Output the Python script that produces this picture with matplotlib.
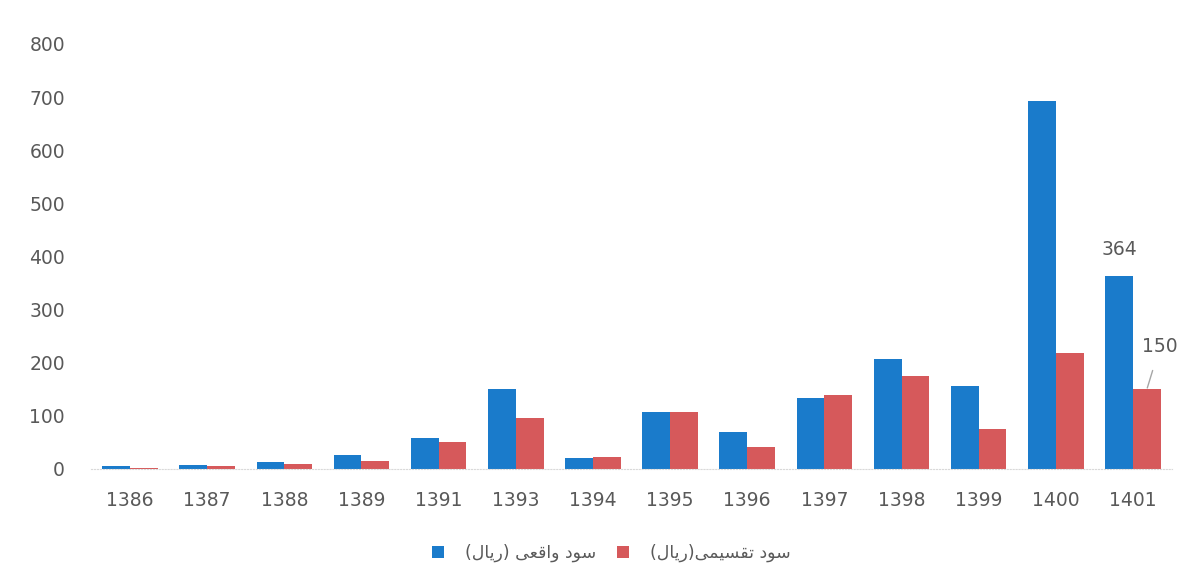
import matplotlib
matplotlib.use("Agg")
import matplotlib.pyplot as plt
import numpy as np

# ------ data ------
years = ["1386", "1387", "1388", "1389", "1391", "1393", "1394",
         "1395", "1396", "1397", "1398", "1399", "1400", "1401"]
real_profit = [5, 7, 14, 26, 58, 151, 21, 107, 70, 134, 207, 156, 693, 364]
paid_profit = [1, 5, 9, 15, 51, 96, 23, 107, 41, 139, 175, 75, 218, 150]
y_ticks = [0, 100, 200, 300, 400, 500, 600, 700, 800]

# persian labels written in visual order with arabic presentation forms
# logical: "سود واقعی (ریال)" and "سود تقسیمی(ریال)"
rial = "(" + "\uFEDD\uFE8E\uFBFE\uFEAD" + ")"
sood = "\uFEA9\uFEEE\uFEB3"
vaghei = "\uFBFD\uFECC\uFED7\uFE8D\uFEED"
taghsimi = "\uFBFD\uFEE4\uFBFF\uFEB4\uFED8\uFE97"
label_real = rial + " " + vaghei + " " + sood
label_paid = rial + taghsimi + " " + sood

blue = "#1a7bcb"
red = "#d6595b"
grey = "#595959"

# ------ plot ------
fig = plt.figure(figsize=(11.87, 5.85), dpi=100)
ax = fig.add_axes([0.077, 0.1983, 0.91, 0.7265])

x = np.arange(len(years))
w = 0.36
b1 = ax.bar(x - w / 2, real_profit, w, color=blue, label=label_real)
b2 = ax.bar(x + w / 2, paid_profit, w, color=red, label=label_paid)

ax.set_xlim(-0.5, len(years) - 0.5)
ax.set_ylim(0, 800)
ax.set_yticks(y_ticks)
ax.set_xticks(x)
ax.set_xticklabels(years)
ax.tick_params(axis="both", length=0, labelsize=13.5, labelcolor=grey)
ax.tick_params(axis="y", pad=19)
ax.tick_params(axis="x", pad=16)
for s in ["top", "right", "left"]:
    ax.spines[s].set_visible(False)
ax.spines["bottom"].set_color("#d9d9d9")
ax.spines["bottom"].set_linestyle(":")

# data labels on the last group
ax.annotate(str(real_profit[-1]), (x[-1] - w / 2, real_profit[-1]),
            xytext=(0, 19), textcoords="offset points", ha="center", va="center",
            fontsize=13.5, color=grey)
ax.annotate(str(paid_profit[-1]), (x[-1] + w / 2, paid_profit[-1]),
            xytext=(9.5, 31), textcoords="offset points", ha="center", va="center",
            fontsize=13.5, color=grey,
            arrowprops=dict(arrowstyle="-", color="#a6a6a6", lw=1,
                            shrinkA=9, shrinkB=1))

fig.legend(handles=[b1, b2], loc="center", bbox_to_anchor=(0.515, 0.055),
           ncol=2, frameon=False, fontsize=12.5, handlelength=0.7,
           handleheight=0.7, handletextpad=1.2, columnspacing=1.2,
           labelcolor=grey)

fig.savefig("out.png", dpi=100)
